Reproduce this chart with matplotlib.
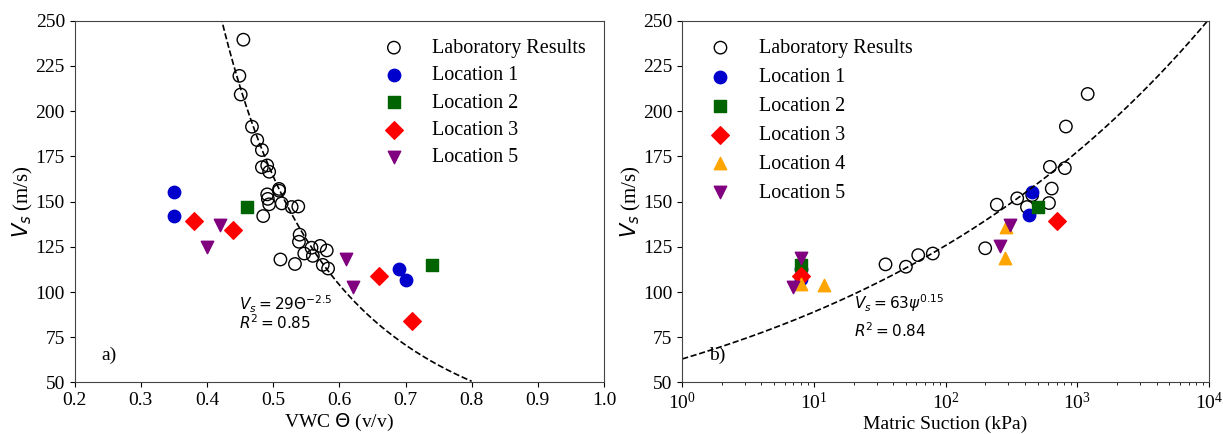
import matplotlib
matplotlib.use("Agg")
import matplotlib.pyplot as plt
import numpy as np

plt.rcParams['font.family'] = ['Liberation Serif', 'DejaVu Serif']
plt.rcParams['mathtext.fontset'] = 'dejavusans'

# (a) Vs vs volumetric water content
lab_theta = [0.455, 0.449, 0.451, 0.468, 0.476, 0.483, 0.483, 0.491, 0.494, 0.509,
             0.509, 0.513, 0.491, 0.492, 0.494, 0.485, 0.528, 0.538, 0.540, 0.539,
             0.547, 0.558, 0.560, 0.571, 0.581, 0.575, 0.583, 0.511, 0.533]
lab_vs_a = [239.5, 219.5, 209.2, 191.4, 184.0, 178.5, 169.0, 170.0, 166.5, 157.0,
            156.0, 149.0, 154.0, 151.5, 148.5, 142.0, 147.0, 147.3, 131.7, 127.8,
            121.3, 124.5, 120.0, 125.5, 123.0, 115.0, 113.0, 118.0, 115.5]
loc1_theta = [0.35, 0.35, 0.69, 0.70]
loc1_vs_a = [155.5, 142.0, 112.5, 106.6]
loc2_theta = [0.46, 0.74]
loc2_vs_a = [146.8, 114.9]
loc3_theta = [0.38, 0.44, 0.66, 0.71]
loc3_vs_a = [139.0, 134.2, 108.8, 84.0]
loc5_theta = [0.42, 0.40, 0.61, 0.62]
loc5_vs_a = [137.0, 125.0, 118.0, 103.0]

# (b) Vs vs matric suction
lab_psi = [35, 50, 62, 80, 200, 245, 350, 415, 455, 610, 620, 640, 805, 820, 1200]
lab_vs_b = [115.3, 114.0, 120.4, 121.3, 124.2, 148.3, 151.8, 147.0, 153.6, 149.2,
            169.2, 157.2, 168.5, 191.5, 209.5]
loc1_psi = [455, 428, 8, 8]
loc1_vs_b = [155.4, 142.4, 107.0, 112.5]
loc2_psi = [500, 8]
loc2_vs_b = [146.9, 114.9]
loc3_psi = [700, 8]
loc3_vs_b = [139.0, 109.0]
loc4_psi = [290, 282, 8, 12]
loc4_vs_b = [136.0, 119.0, 104.2, 103.9]
loc5_psi = [311, 260, 8, 7]
loc5_vs_b = [137.0, 125.4, 119.0, 103.0]

S = 80
fig = plt.figure(figsize=(12.23, 4.34), dpi=100)
ax1 = fig.add_axes([0.061, 0.1187, 0.4329, 0.8336])
ax2 = fig.add_axes([0.5578, 0.1187, 0.4307, 0.8336])

# ---- left panel
th = np.linspace(0.41, 0.8, 300)
ax1.plot(th, 29 * th ** -2.5, 'k--', linewidth=1.2)
ax1.scatter(lab_theta, lab_vs_a, s=S, facecolors='none', edgecolors='black', linewidths=1, label='Laboratory Results')
ax1.scatter(loc1_theta, loc1_vs_a, s=S, marker='o', color='mediumblue', label='Location 1')
ax1.scatter(loc2_theta, loc2_vs_a, s=S, marker='s', color='darkgreen', label='Location 2')
ax1.scatter(loc3_theta, loc3_vs_a, s=S, marker='D', color='red', label='Location 3')
ax1.scatter(loc5_theta, loc5_vs_a, s=S, marker='v', color='purple', label='Location 5')
ax1.text(0.449, 93, r'$V_s = 29\Theta^{-2.5}$', fontsize=11, va='center')
ax1.text(0.449, 83, r'$R^2 = 0.85$', fontsize=11, va='center')
ax1.text(0.24, 65, 'a)', fontsize=14, va='center')
ax1.set_xlim(0.2, 1.0)
ax1.set_ylim(50, 250)
ax1.set_xticks(np.arange(0.2, 1.01, 0.1))
ax1.set_yticks(np.arange(50, 251, 25))
ax1.set_xlabel(r'VWC $\Theta$ (v/v)', fontsize=14, labelpad=2)
ax1.set_ylabel(r'$V_s$ (m/s)', fontsize=15, labelpad=0.5)
ax1.legend(loc='upper right', frameon=False, fontsize=14.5, scatterpoints=1,
           handletextpad=0.9, labelspacing=0.41)

# ---- right panel
ps = np.logspace(0, 4, 300)
ax2.plot(ps, 63 * ps ** 0.15, 'k--', linewidth=1.2)
ax2.scatter(lab_psi, lab_vs_b, s=S, facecolors='none', edgecolors='black', linewidths=1, label='Laboratory Results')
ax2.scatter(loc1_psi, loc1_vs_b, s=S, marker='o', color='mediumblue', label='Location 1')
ax2.scatter(loc2_psi, loc2_vs_b, s=S, marker='s', color='darkgreen', label='Location 2')
ax2.scatter(loc3_psi, loc3_vs_b, s=S, marker='D', color='red', label='Location 3')
ax2.scatter(loc4_psi, loc4_vs_b, s=S, marker='^', color='orange', label='Location 4')
ax2.scatter(loc5_psi, loc5_vs_b, s=S, marker='v', color='purple', label='Location 5')
ax2.text(20, 94, r'$V_s = 63\psi^{0.15}$', fontsize=11, va='center')
ax2.text(20, 78.5, r'$R^2 = 0.84$', fontsize=11, va='center')
ax2.text(1.6, 65, 'b)', fontsize=14, va='center')
ax2.set_xscale('log')
ax2.set_xlim(1, 1e4)
ax2.set_ylim(50, 250)
ax2.set_yticks(np.arange(50, 251, 25))
ax2.set_xlabel('Matric Suction (kPa)', fontsize=14, labelpad=2)
ax2.set_ylabel(r'$V_s$ (m/s)', fontsize=15, labelpad=0)
ax2.legend(loc='upper left', frameon=False, fontsize=14.5, scatterpoints=1,
           handletextpad=0.9, labelspacing=0.49)

for ax in (ax1, ax2):
    ax.tick_params(labelsize=14)
    for sp in ax.spines.values():
        sp.set_color('#444444')

fig.savefig('out.png', dpi=100)
